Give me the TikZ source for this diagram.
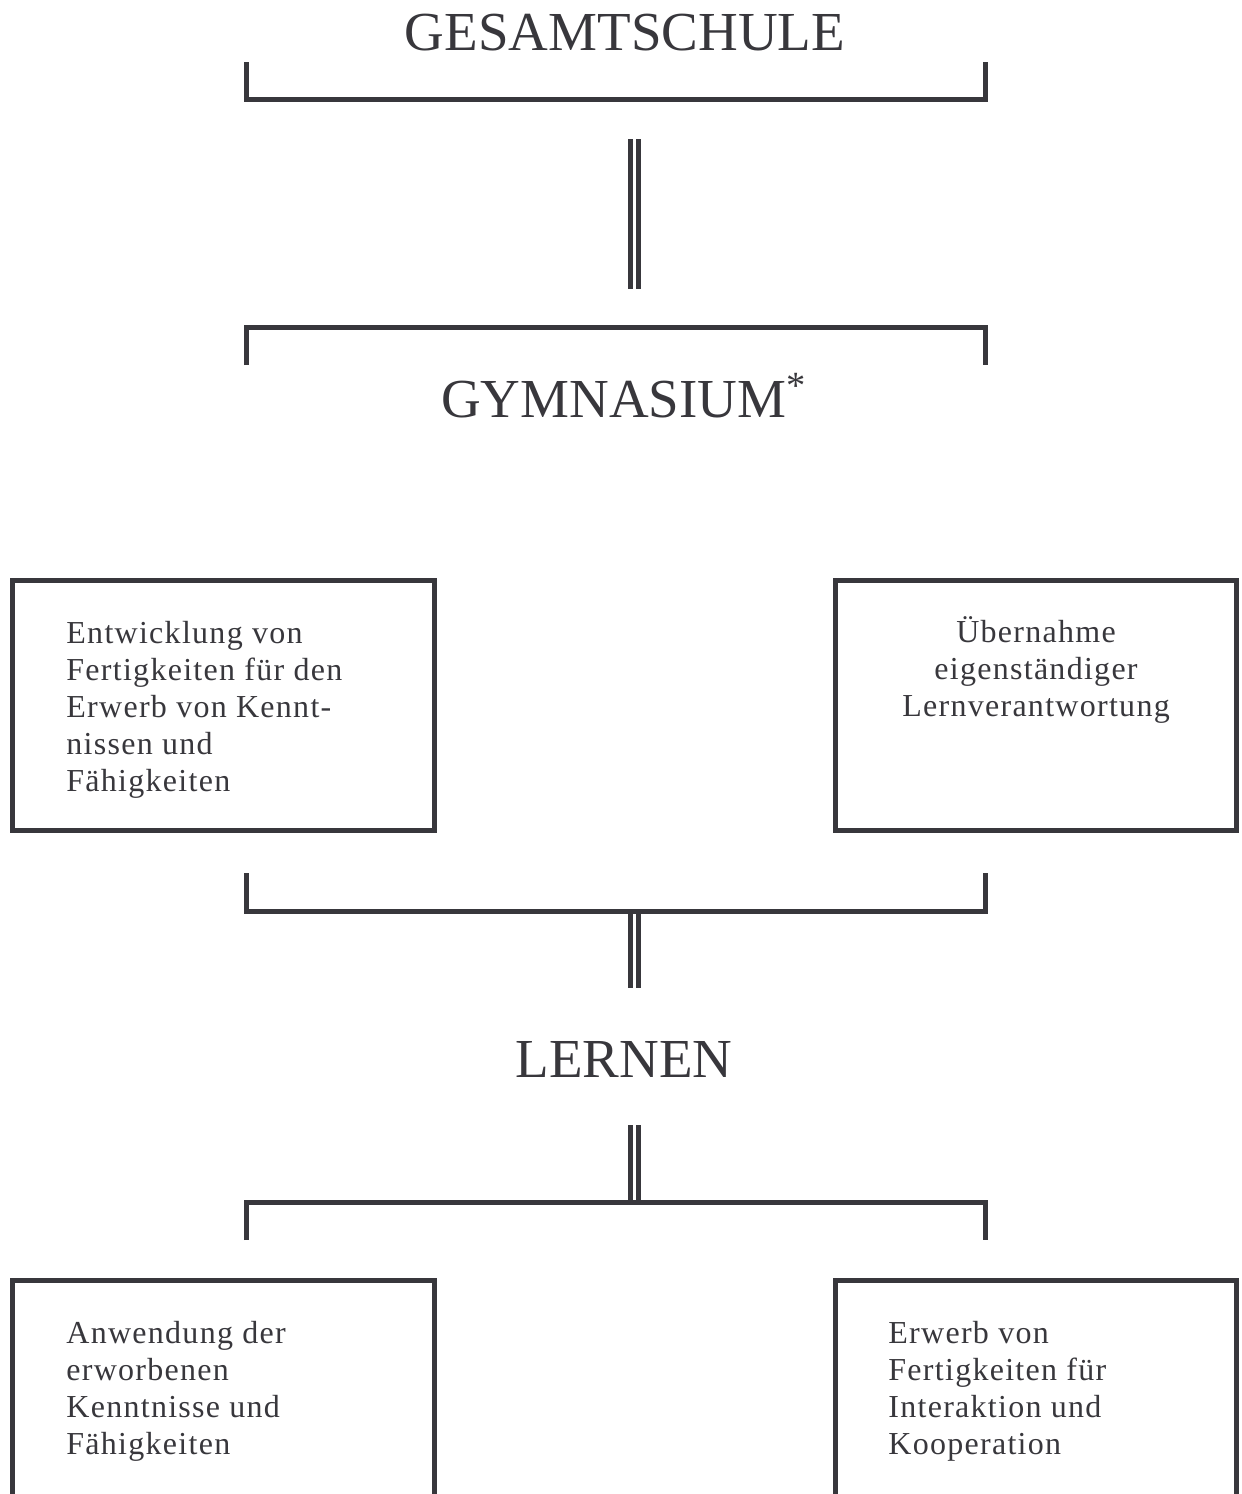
\documentclass[tikz,border=0pt]{standalone}
\usepackage{fontspec}
\setmainfont{Liberation Serif}
\newfontfamily\spacedfont[LetterSpace=4]{Liberation Serif}
\usepackage{tikz}
\usetikzlibrary{positioning}
\definecolor{ChartGray}{HTML}{38373C}

\begin{document}
\begin{tikzpicture}[x=0.5pt, y=-0.5pt, line join=miter,
  title/.style={text=ChartGray, font=\fontsize{27.5}{33}\selectfont, anchor=base, inner sep=0pt},
  frame/.style={draw=ChartGray, line width=2.5pt, inner sep=0pt, minimum height=125pt},
  boxtext/.style={text=ChartGray, font=\spacedfont\fontsize{16}{18.5}\selectfont, inner sep=0pt},
  bracket/.style={draw=ChartGray, line width=2.5pt},
  dline/.style={draw=ChartGray, line width=2.5pt, double=white, double distance=1.5pt}]
  \useasboundingbox (0,0) rectangle (1242,1494);
  \clip (0,0) rectangle (1242,1494);

  \node[title] (gesamt) at (625,50) {GESAMTSCHULE};
  \node[title] (gymn) at (624,417) {GYMNASIUM\textsuperscript{*}};
  \node[title] (lernen) at (624,1077) {LERNEN};

  \node[frame, minimum width=211pt] (entw) at (223.5,705.5) {};
  \node[frame, minimum width=200.5pt] (uebern) at (1036,705.5) {};
  \node[frame, minimum width=211pt, minimum height=150pt] (anw) at (223.5,1430.5) {};
  \node[frame, minimum width=200.5pt, minimum height=150pt] (erw) at (1036,1430.5) {};

  \node[boxtext, align=left, anchor=north west] (entw-t) at (66,621) {Entwicklung von\\Fertigkeiten für den\\Erwerb von Kennt-\\nissen und\\Fähigkeiten};
  \node[boxtext, align=center, anchor=north] (uebern-t) at (1036,616) {Übernahme\\eigenständiger\\Lernverantwortung};
  \node[boxtext, align=left, anchor=north west] (anw-t) at (66,1321) {Anwendung der\\erworbenen\\Kenntnisse und\\Fähigkeiten};
  \node[boxtext, align=left, anchor=north west] (erw-t) at (888,1321) {Erwerb von\\Fertigkeiten für\\Interaktion und\\Kooperation};

  \coordinate (gs-l) at (246,62);
  \coordinate (gs-r) at (985,62);
  \coordinate (gs-m) at (634.5,139);
  \coordinate (gy-m) at (634.5,289);
  \coordinate (gy-l) at (246,365);
  \coordinate (gy-r) at (985,365);
  \coordinate (bx-l) at (246,873);
  \coordinate (bx-r) at (985,873);
  \coordinate (bx-m) at (634.5,911);
  \coordinate (le-t) at (634.5,988);
  \coordinate (le-b) at (634.5,1125);
  \coordinate (lo-m) at (634.5,1202);
  \coordinate (lo-l) at (246,1240);
  \coordinate (lo-r) at (985,1240);

  \draw[dline] (gs-m) -- (gy-m);
  \draw[dline] (bx-m) -- (le-t);
  \draw[dline] (le-b) -- (lo-m);

  \draw[bracket] (gs-l) |- (gs-m |- 0,99) -| (gs-r);
  \draw[bracket] (gy-l) |- (gy-m |- 0,327) -| (gy-r);
  \draw[bracket] (bx-l) |- (bx-m) -| (bx-r);
  \draw[bracket] (lo-l) |- (lo-m) -| (lo-r);
\end{tikzpicture}
\end{document}
